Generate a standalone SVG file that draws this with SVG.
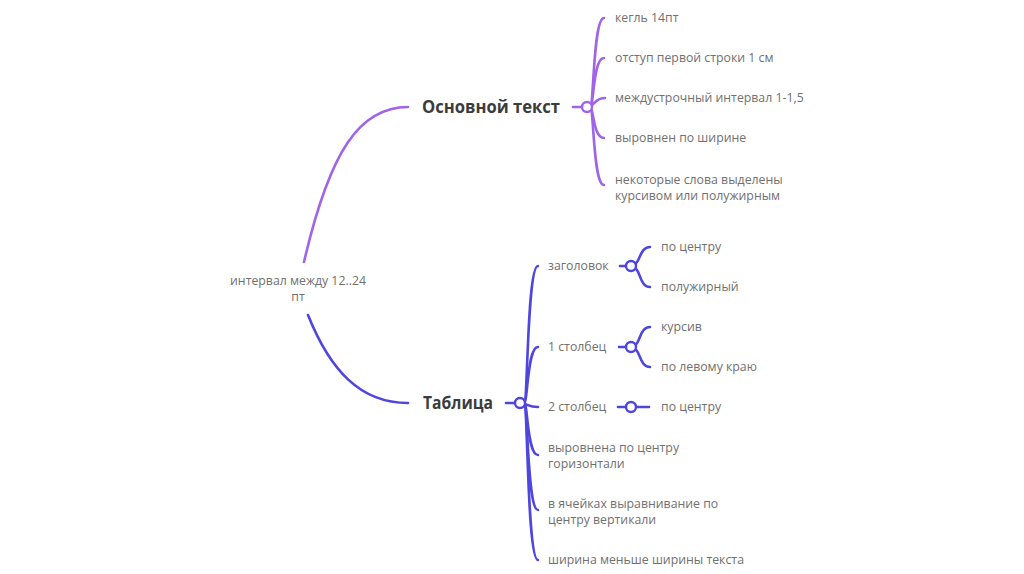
<svg xmlns="http://www.w3.org/2000/svg" width="1024" height="574" viewBox="0 0 1024 574">
<style>
.p{fill:none;stroke:#a064e8;stroke-width:2.6;stroke-linecap:round}
.b{fill:none;stroke:#4f45df;stroke-width:2.6;stroke-linecap:round}
.cp{fill:#fff;stroke:#a064e8;stroke-width:2.4}
.cb{fill:#fff;stroke:#4f45df;stroke-width:2.4}
.t{font-family:"Open Sans","Noto Sans",sans-serif;font-size:12.3px;fill:#707070}
.h{font-family:"Open Sans","Noto Sans",sans-serif;font-size:17px;font-weight:bold;fill:#3c3c3c}
</style>
<rect width="1024" height="574" fill="#fff"/>
<g id="connectors">
<path class="p" d="M304,262 C330,150 360,107 408,107"/>
<path class="b" d="M308,315 C330,370 360,403 408,403"/>
<path class="p" d="M573,107 H582"/>
<path class="p" d="M590,107 C594,107 593,18 604,18"/>
<path class="p" d="M590,107 C594,107 593,58 604,58"/>
<path class="p" d="M590,106 C595,104 596,98 605,98"/>
<path class="p" d="M590,108 C594,108 593,138 604,138"/>
<path class="p" d="M590,107 C594,107 593,185 604,185"/>
<path class="b" d="M506,403 H515"/>
<path class="b" d="M524,403 C528,403 527,266 538,266"/>
<path class="b" d="M524,403 C528,403 527,347 538,347"/>
<path class="b" d="M525,404 C530,406 531,407 538,407"/>
<path class="b" d="M524,403 C528,403 527,455 538,455"/>
<path class="b" d="M524,403 C528,403 527,510 538,510"/>
<path class="b" d="M524,403 C528,403 527,560 538,560"/>
<path class="b" d="M620,266 H626"/>
<path class="b" d="M635,264 C640,262 640,247 650,247"/>
<path class="b" d="M635,268 C640,270 640,287 650,287"/>
<path class="b" d="M619,347 H626"/>
<path class="b" d="M635,345 C640,343 640,327 650,327"/>
<path class="b" d="M635,349 C640,351 640,367 650,367"/>
<path class="b" d="M618,407 H626 M636,407 H649"/>
</g>
<g id="root"><text class="t" x="298" y="285" text-anchor="middle">интервал между 12..24</text><text class="t" x="298" y="301" text-anchor="middle">пт</text></g>
<g id="osnovnoy"><text class="h" x="422" y="113" textLength="138" lengthAdjust="spacingAndGlyphs">Основной текст</text><circle class="cp" cx="587" cy="107" r="5"/></g>
<g id="o1"><text class="t" x="615" y="22">кегль 14пт</text></g>
<g id="o2"><text class="t" x="615" y="62">отступ первой строки 1 см</text></g>
<g id="o3"><text class="t" x="615" y="102">междустрочный интервал 1-1,5</text></g>
<g id="o4"><text class="t" x="615" y="142">выровнен по ширине</text></g>
<g id="o5"><text class="t" x="615" y="184">некоторые слова выделены</text><text class="t" x="615" y="200">курсивом или полужирным</text></g>
<g id="tablitsa"><text class="h" x="423" y="409" textLength="70" lengthAdjust="spacingAndGlyphs">Таблица</text><circle class="cb" cx="520" cy="403" r="5"/></g>
<g id="t1"><text class="t" x="548" y="270">заголовок</text><circle class="cb" cx="631" cy="266" r="5"/></g>
<g id="t1a"><text class="t" x="661" y="251">по центру</text></g>
<g id="t1b"><text class="t" x="661" y="291">полужирный</text></g>
<g id="t2"><text class="t" x="548" y="351">1 столбец</text><circle class="cb" cx="631" cy="347" r="5"/></g>
<g id="t2a"><text class="t" x="661" y="331">курсив</text></g>
<g id="t2b"><text class="t" x="661" y="371">по левому краю</text></g>
<g id="t3"><text class="t" x="548" y="411">2 столбец</text><circle class="cb" cx="631" cy="407" r="5"/></g>
<g id="t3a"><text class="t" x="661" y="411">по центру</text></g>
<g id="t4"><text class="t" x="548" y="452">выровнена по центру</text><text class="t" x="548" y="468">горизонтали</text></g>
<g id="t5"><text class="t" x="548" y="508">в ячейках выравнивание по</text><text class="t" x="548" y="524">центру вертикали</text></g>
<g id="t6"><text class="t" x="548" y="564">ширина меньше ширины текста</text></g>
</svg>
